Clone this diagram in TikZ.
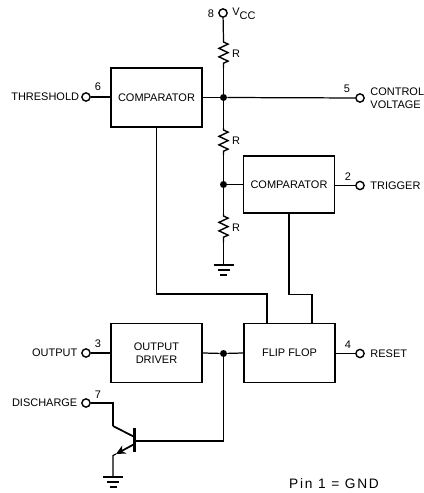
\documentclass[tikz,border=0pt]{standalone}
\usepackage{fontspec}
\setmainfont{Liberation Sans}
\usetikzlibrary{arrows.meta, positioning, decorations.pathmorphing}
\tikzstyle{box}     = [rectangle, draw=black, line width=1pt, minimum width=1.82cm,
                       minimum height=1.18cm, text centered, inner sep=0pt,
                       align=center, font=\fontsize{6.25}{7.6}\selectfont]
\tikzstyle{pinmark} = [circle, draw=black, line width=0.8pt, fill=white,
                       minimum size=0.165cm, inner sep=0pt]
\tikzstyle{joint}   = [circle, fill=black, minimum size=0.14cm, inner sep=0pt]
\tikzstyle{txt}     = [inner sep=0pt, align=left, font=\fontsize{6.25}{7.6}\selectfont]
\tikzstyle{wire}    = [line width=0.7pt]
\tikzstyle{res}     = [line width=0.8pt, decoration={zigzag, amplitude=0.09cm, segment length=0.17cm,
                       pre length=0.04cm, post length=0.04cm}, decorate]

\begin{document}
\begin{tikzpicture}[x=0.02cm, y=-0.02cm]
    \useasboundingbox (0,0) rectangle (423,493);

    % ── Blocks ──────────────────────────────────────────────────────────────
    \node (compa)  [box] at (156.5,97.5)              {COMPARATOR};
    \node (compb)  [box, minimum height=1.14cm] at (289,184.5) {COMPARATOR};
    \node (driver) [box] at (156.5,353)               {OUTPUT\\DRIVER};
    \node (flip)   [box] at (289.5,353)               {FLIP FLOP};

    % ── Pins ────────────────────────────────────────────────────────────────
    \node (vcc)   [pinmark] at (223,13)  {};
    \node (pin6)  [pinmark] at (86,97)   {};
    \node (pin5)  [pinmark] at (360,98)  {};
    \node (pin2)  [pinmark] at (360,185.5) {};
    \node (pin3)  [pinmark] at (86,353)  {};
    \node (pin4)  [pinmark] at (360,353.5) {};
    \node (pin7)  [pinmark] at (86,403)  {};

    % ── Junctions ───────────────────────────────────────────────────────────
    \node (jtop)  [joint] at (223.5,97.5)  {};
    \node (jmid)  [joint] at (223.5,184.5) {};
    \node (jout)  [joint] at (223.5,353.5) {};

    \coordinate (ra1) at (223.5,40);
    \coordinate (ra2) at (223.5,68);
    \coordinate (rb1) at (223.5,128);
    \coordinate (rb2) at (223.5,155);
    \coordinate (rc1) at (223.5,214);
    \coordinate (rc2) at (223.5,242);
    \coordinate (gnda) at (223.5,265);
    \coordinate (gndb) at (113,477);
    \coordinate (flipa) at ([xshift=-0.45cm]flip.north);
    \coordinate (flipb) at ([xshift=0.45cm]flip.north);
    \coordinate (benda) at (156.5,294);
    \coordinate (bendb) at (289,294.5);

    % ── Transistor ──────────────────────────────────────────────────────────
    \coordinate (basetop) at (134.5,428);
    \coordinate (basebot) at (134.5,452);
    \coordinate (base)    at (134.5,441);
    \coordinate (coll)    at (113,426);
    \coordinate (emit)    at (113,455.5);
    \coordinate (tip)     at (116,454);
    \coordinate (collb)   at (134.5,437);
    \coordinate (emitb)   at (134.5,444);

    % ── Labels ──────────────────────────────────────────────────────────────
    \node (lthr)  [txt, left=1pt of pin6]   {THRESHOLD};
    \node (lout)  [txt, left=2pt of pin3]   {OUTPUT};
    \node (ldis)  [txt, left=2pt of pin7]   {DISCHARGE};
    \node (lctl)  [txt, right=3pt of pin5]  {CONTROL\\VOLTAGE};
    \node (ltrg)  [txt, right=3pt of pin2]  {TRIGGER};
    \node (lrst)  [txt, right=3pt of pin4]  {RESET};
    \node (lvcc)  [txt, anchor=west] at (232,14) {V\raisebox{-2.2pt}{CC}};
    \node (n8)    [txt] at (211,14)  {8};
    \node (n6)    [txt] at (98,87)   {6};
    \node (n5)    [txt] at (347,89)  {5};
    \node (n2)    [txt] at (348,177) {2};
    \node (n3)    [txt] at (98,344)  {3};
    \node (n4)    [txt] at (348,345) {4};
    \node (n7)    [txt] at (98,395)  {7};
    \node (ra)    [txt] at (236,54)  {R};
    \node (rb)    [txt] at (236,141) {R};
    \node (rc)    [txt] at (236,228) {R};
    \node (lgnd)  [inner sep=0pt, font=\fontsize{7.8}{9}\selectfont\addfontfeature{LetterSpace=13}]
        at (334,484) {Pin 1 = GND};

    % ── Resistor chain ──────────────────────────────────────────────────────
    \draw [wire] (vcc) -- (ra1);
    \draw [res]  (ra1) -- (ra2);
    \draw [wire] (ra2) -- (jtop);
    \draw [wire] (jtop) -- (rb1);
    \draw [res]  (rb1) -- (rb2);
    \draw [wire] (rb2) -- (jmid);
    \draw [wire] (jmid) -- (rc1);
    \draw [res]  (rc1) -- (rc2);
    \draw [wire] (rc2) -- (gnda);

    % ── Signal wires ────────────────────────────────────────────────────────
    \draw [wire] (pin6) -- (compa.west |- pin6);
    \draw [wire] (compa.east) -- (jtop);
    \draw [wire] (jtop) -- (pin5);
    \draw [wire] (jmid) -- (compb.west);
    \draw [wire] (compb.east |- pin2) -- (pin2);
    \draw [wire] (pin3) -- (driver.west);
    \draw [wire] (driver.east) -- (jout);
    \draw [wire] (jout) -- (flip.west);
    \draw [wire] (flip.east |- pin4) -- (pin4);
    \draw [wire] (compa.south) -- (benda) -| (flipa);
    \draw [wire] (compb.south) -- (bendb) -| (flipb);
    \draw [wire] (jout) |- (base);

    % ── Transistor drawing ──────────────────────────────────────────────────
    \draw [line width=1.4pt] (basetop) -- (basebot);
    \draw [wire] (pin7) -| (coll);
    \draw [line width=1pt] (coll) -- (collb);
    \draw [line width=1pt, -{Stealth[length=0.19cm, width=0.18cm]}] (emitb) -- (tip);
    \draw [wire] (tip) -- (emit) -- (gndb);

    % ── Grounds ─────────────────────────────────────────────────────────────
    \draw [wire] (gnda) ++(-10,0) -- ++(20,0) ++(-16,5) -- ++(12,0);
    \draw [line width=0.9pt] (gnda) ++(-3.5,10) -- ++(7,0);
    \draw [wire] (gndb) ++(-10,0) -- ++(20,0) ++(-16,5) -- ++(12,0);
    \draw [line width=0.9pt] (gndb) ++(-3.5,10) -- ++(7,0);

\end{tikzpicture}
\end{document}
